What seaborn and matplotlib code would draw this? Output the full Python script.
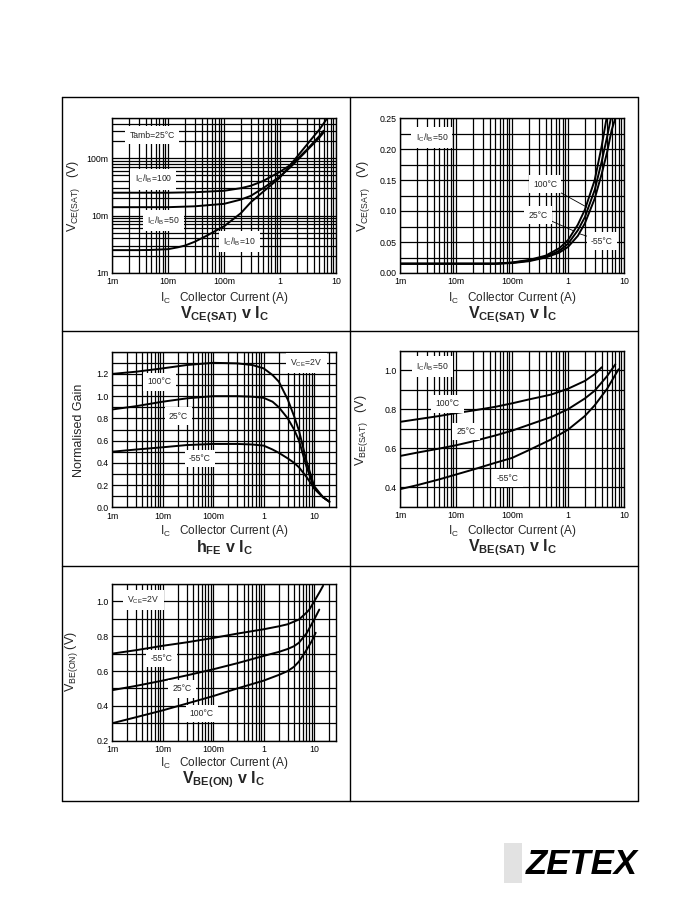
import numpy as np
import pandas as pd
import matplotlib
matplotlib.use("Agg")
import matplotlib.pyplot as plt
import seaborn as sns
from matplotlib.ticker import (LogLocator, MultipleLocator, FixedLocator,
                               FixedFormatter, NullFormatter, FormatStrFormatter)
from matplotlib.lines import Line2D
from matplotlib.patches import Rectangle

# ---------------- data ----------------
# Panel 1: VCE(SAT) v IC (log-log), Tamb=25C
p1_ic_a = [1e-3, 3e-3, 1e-2, 3e-2, 0.1, 0.2, 0.3, 0.5, 1, 1.5, 2, 3, 4, 5, 6]
p1_ib100 = [25e-3, 25e-3, 25e-3, 25.5e-3, 27e-3, 30e-3, 33e-3, 40e-3, 58e-3, 75e-3, 95e-3, 140e-3, 190e-3, 240e-3, 300e-3]
p1_ib50 = [14e-3, 14e-3, 14e-3, 14.5e-3, 16e-3, 19e-3, 22e-3, 30e-3, 48e-3, 68e-3, 90e-3, 135e-3, 180e-3, 225e-3, 280e-3]
p1_ic_b = [1e-3, 3e-3, 5e-3, 1e-2, 1.5e-2, 2e-2, 3e-2, 5e-2, 0.07, 0.1, 0.2, 0.3, 0.5, 1, 2, 3, 4, 5, 6, 7]
p1_ib10 = [2.5e-3, 2.5e-3, 2.52e-3, 2.6e-3, 2.8e-3, 3.0e-3, 3.5e-3, 4.5e-3, 5.4e-3, 6.5e-3, 11e-3, 17e-3, 26e-3, 46e-3, 105e-3, 170e-3, 240e-3, 310e-3, 400e-3, 500e-3]

# Panel 2: VCE(SAT) v IC (linear y), IC/IB=50
p2_ic = [1e-3, 1e-2, 5e-2, 0.1, 0.2, 0.4, 0.7, 1, 1.5, 2, 3, 4, 5, 6, 7.3]
p2_100 = [0.015, 0.015, 0.015, 0.017, 0.021, 0.028, 0.040, 0.053, 0.078, 0.102, 0.150, 0.205, 0.255, None, None]
p2_25 = [0.015, 0.015, 0.015, 0.0165, 0.020, 0.026, 0.036, 0.047, 0.069, 0.090, 0.134, 0.180, 0.220, 0.255, None]
p2_m55 = [0.015, 0.015, 0.015, 0.016, 0.019, 0.025, 0.033, 0.042, 0.060, 0.080, 0.120, 0.160, 0.195, 0.230, 0.255]

# Panel 3: hFE v IC (normalised gain), VCE=2V
p3_ic = [1e-3, 3e-3, 1e-2, 3e-2, 0.1, 0.3, 0.6, 1, 1.5, 2, 3, 4, 5, 7, 10, 15, 20]
p3_100 = [1.20, 1.22, 1.25, 1.28, 1.30, 1.295, 1.28, 1.25, 1.19, 1.13, 0.97, 0.82, 0.69, 0.42, 0.19, 0.09, 0.05]
p3_25 = [0.88, 0.91, 0.95, 0.98, 1.00, 1.00, 0.995, 0.985, 0.95, 0.90, 0.80, 0.70, 0.60, 0.37, 0.17, 0.09, 0.05]
p3_m55 = [0.50, 0.52, 0.54, 0.56, 0.57, 0.57, 0.565, 0.555, 0.52, 0.49, 0.44, 0.40, 0.36, 0.275, 0.17, 0.09, 0.05]

# Panel 4: VBE(SAT) v IC, IC/IB=50
p4_ic_100 = [1e-3, 2e-3, 5e-3, 1e-2, 2e-2, 5e-2, 0.1, 0.2, 0.5, 1, 2, 3, 4]
p4_100 = [0.735, 0.748, 0.765, 0.78, 0.793, 0.812, 0.83, 0.85, 0.875, 0.905, 0.945, 0.98, 1.015]
p4_ic_25 = [1e-3, 2e-3, 5e-3, 1e-2, 2e-2, 5e-2, 0.1, 0.2, 0.5, 1, 2, 3, 5, 7]
p4_25 = [0.56, 0.577, 0.598, 0.615, 0.635, 0.665, 0.69, 0.72, 0.76, 0.80, 0.855, 0.895, 0.97, 1.03]
p4_ic_m55 = [1e-3, 2e-3, 5e-3, 1e-2, 2e-2, 5e-2, 0.1, 0.2, 0.5, 1, 2, 3, 5, 8]
p4_m55 = [0.39, 0.41, 0.44, 0.465, 0.49, 0.525, 0.55, 0.59, 0.645, 0.695, 0.765, 0.82, 0.905, 1.005]

# Panel 5: VBE(ON) v IC, VCE=2V
p5_ic_a = [1e-3, 3e-3, 1e-2, 3e-2, 0.1, 0.3, 1, 2, 3, 5, 7, 8, 10, 13, 15]
p5_a = [0.70, 0.72, 0.745, 0.765, 0.79, 0.815, 0.84, 0.857, 0.869, 0.896, 0.935, 0.953, 1.0, 1.057, 1.09]
p5_ic_b = [1e-3, 3e-3, 1e-2, 3e-2, 0.1, 0.3, 1, 2, 3, 4, 5, 7, 10, 12.6]
p5_b = [0.49, 0.515, 0.545, 0.575, 0.61, 0.645, 0.687, 0.71, 0.727, 0.743, 0.763, 0.815, 0.896, 0.953]
p5_ic_c = [1e-3, 3e-3, 1e-2, 3e-2, 0.1, 0.3, 1, 2, 3, 4, 5, 7, 9, 10.7]
p5_c = [0.30, 0.335, 0.374, 0.413, 0.456, 0.50, 0.545, 0.578, 0.60, 0.625, 0.655, 0.72, 0.773, 0.82]

x_ticks = [1e-3, 1e-2, 1e-1, 1, 10]
x_ticklabels = ["1m", "10m", "100m", "1", "10"]

# ---------------- style ----------------
sns.set_theme(style="white")
plt.rcParams["font.family"] = ["Liberation Sans", "DejaVu Sans"]
plt.rcParams["mathtext.fontset"] = "custom"
plt.rcParams["mathtext.rm"] = "Liberation Sans"
plt.rcParams["mathtext.it"] = "Liberation Sans:italic"
plt.rcParams["mathtext.bf"] = "Liberation Sans:bold"
plt.rcParams["mathtext.default"] = "regular"

W, H = 700, 900
fig = plt.figure(figsize=(7, 9), dpi=100)
fig.patch.set_facecolor("white")


def px_axes(x0, y0, x1, y1):
    return fig.add_axes([x0 / W, 1 - y1 / H, (x1 - x0) / W, (y1 - y0) / H])


GRID_LW = 0.9
CURVE_LW = 1.4
TICK_FS = 6.3
LAB_FS = 6.2


def style_axes(ax, xmax):
    ax.set_xscale("log")
    ax.set_xlim(1e-3, xmax)
    ax.xaxis.set_major_locator(FixedLocator(x_ticks))
    ax.xaxis.set_major_formatter(FixedFormatter(x_ticklabels))
    ax.xaxis.set_minor_locator(LogLocator(base=10, subs=np.arange(2, 10), numticks=30))
    ax.xaxis.set_minor_formatter(NullFormatter())
    ax.grid(True, which="both", color="black", lw=GRID_LW)
    ax.set_axisbelow(True)
    ax.tick_params(which="both", length=0, labelsize=TICK_FS, colors="black")
    ax.tick_params(axis="x", pad=3.2)
    ax.tick_params(axis="y", pad=2.6)
    for s in ax.spines.values():
        s.set_color("black")
        s.set_linewidth(1.0)
    ax.set_xlabel("")
    ax.set_ylabel("")


def curve(ax, xs, ys):
    df = pd.DataFrame({"x": xs, "y": ys}).dropna()
    sns.lineplot(data=df, x="x", y="y", ax=ax, color="black", lw=CURVE_LW,
                 estimator=None, sort=False, zorder=3)


BOX = dict(facecolor="white", edgecolor="none", boxstyle="square,pad=0.5")


def label(ax, x, y, s, fs=LAB_FS):
    ax.text(x, y, s, fontsize=fs, ha="center", va="center", zorder=4, bbox=BOX)


def leader(ax, s, xy, xytext):
    ax.annotate(s, xy=xy, xytext=xytext, fontsize=LAB_FS, ha="center", va="center",
                zorder=4, bbox=BOX,
                arrowprops=dict(arrowstyle="-", color="black", lw=0.6,
                                shrinkA=0, shrinkB=0))


# ---------------- Panel 1 ----------------
ax1 = px_axes(112, 118, 336, 273)
curve(ax1, p1_ic_a, p1_ib100)
curve(ax1, p1_ic_a, p1_ib50)
curve(ax1, p1_ic_b, p1_ib10)
style_axes(ax1, 10)
ax1.set_yscale("log")
ax1.set_ylim(1e-3, 0.5)
ax1.yaxis.set_major_locator(FixedLocator([1e-3, 1e-2, 1e-1]))
ax1.yaxis.set_major_formatter(FixedFormatter(["1m", "10m", "100m"]))
ax1.yaxis.set_minor_locator(LogLocator(base=10, subs=np.arange(2, 10), numticks=30))
ax1.yaxis.set_minor_formatter(NullFormatter())
label(ax1, 5.2e-3, 0.25, "Tamb=25°C")
label(ax1, 5.5e-3, 43e-3, r"I$_C$/I$_B$=100")
label(ax1, 8.3e-3, 8.2e-3, r"I$_C$/I$_B$=50")
label(ax1, 0.19, 3.5e-3, r"I$_C$/I$_B$=10")

# ---------------- Panel 2 ----------------
ax2 = px_axes(400, 118, 624, 273)
curve(ax2, p2_ic, p2_100)
curve(ax2, p2_ic, p2_25)
curve(ax2, p2_ic, p2_m55)
style_axes(ax2, 10)
ax2.set_ylim(0, 0.25)
ax2.yaxis.set_major_locator(MultipleLocator(0.05))
ax2.yaxis.set_minor_locator(MultipleLocator(0.025))
ax2.yaxis.set_major_formatter(FormatStrFormatter("%.2f"))
label(ax2, 3.7e-3, 0.218, r"I$_C$/I$_B$=50")
leader(ax2, "100°C", (2.18, 0.106), (0.39, 0.1435))
leader(ax2, "25°C", (1.28, 0.0677), (0.29, 0.0935))
leader(ax2, "-55°C", (1.64, 0.063), (4.05, 0.0516))

# ---------------- Panel 3 ----------------
ax3 = px_axes(112, 351.7, 336, 507.3)
curve(ax3, p3_ic, p3_100)
curve(ax3, p3_ic, p3_25)
curve(ax3, p3_ic, p3_m55)
style_axes(ax3, 27)
ax3.set_ylim(0, 1.4)
ax3.yaxis.set_major_locator(FixedLocator([0, 0.2, 0.4, 0.6, 0.8, 1.0, 1.2]))
ax3.yaxis.set_minor_locator(MultipleLocator(0.1))
ax3.yaxis.set_major_formatter(FormatStrFormatter("%.1f"))
label(ax3, 7.0, 1.30, r"V$_{CE}$=2V")
label(ax3, 8.8e-3, 1.13, "100°C")
label(ax3, 20.6e-3, 0.82, "25°C")
label(ax3, 54.6e-3, 0.44, "-55°C")

# ---------------- Panel 4 ----------------
ax4 = px_axes(400, 350.7, 624, 506.7)
curve(ax4, p4_ic_100, p4_100)
curve(ax4, p4_ic_25, p4_25)
curve(ax4, p4_ic_m55, p4_m55)
style_axes(ax4, 10)
ax4.set_ylim(0.3, 1.1)
ax4.yaxis.set_major_locator(FixedLocator([0.4, 0.6, 0.8, 1.0]))
ax4.yaxis.set_minor_locator(MultipleLocator(0.1))
ax4.yaxis.set_major_formatter(FormatStrFormatter("%.1f"))
label(ax4, 3.8e-3, 1.018, r"I$_C$/I$_B$=50")
label(ax4, 7.1e-3, 0.827, "100°C")
label(ax4, 15e-3, 0.685, "25°C")
label(ax4, 83e-3, 0.446, "-55°C")

# ---------------- Panel 5 ----------------
ax5 = px_axes(112, 584, 336, 740.7)
curve(ax5, p5_ic_a, p5_a)
curve(ax5, p5_ic_b, p5_b)
curve(ax5, p5_ic_c, p5_c)
style_axes(ax5, 27)
ax5.set_ylim(0.2, 1.1)
ax5.yaxis.set_major_locator(FixedLocator([0.2, 0.4, 0.6, 0.8, 1.0]))
ax5.yaxis.set_minor_locator(MultipleLocator(0.1))
ax5.yaxis.set_major_formatter(FormatStrFormatter("%.1f"))
label(ax5, 4.2e-3, 1.008, r"V$_{CE}$=2V")
label(ax5, 9.6e-3, 0.673, "-55°C")
label(ax5, 24e-3, 0.497, "25°C")
label(ax5, 60e-3, 0.357, "100°C")

# ---------------- axis titles (figure text) ----------------
def ftext(x, y, s, **kw):
    fig.text(x / W, 1 - y / H, s, **kw)

XL_FS = 8.5
TT_FS = 11.5
YL_FS = 9
xl = r"I$_C$   Collector Current (A)"
for cx, y_xl, y_tt, tt in [
    (224, 298, 315, r"$\mathbf{V_{CE(SAT)}\ v\ I_C}$"),
    (512, 298, 315, r"$\mathbf{V_{CE(SAT)}\ v\ I_C}$"),
    (224, 531, 548, r"$\mathbf{h_{FE}\ v\ I_C}$"),
    (512, 531, 548, r"$\mathbf{V_{BE(SAT)}\ v\ I_C}$"),
    (224, 763, 780, r"$\mathbf{V_{BE(ON)}\ v\ I_C}$"),
]:
    ftext(cx, y_xl, xl, fontsize=XL_FS, ha="center", va="center")
    ftext(cx, y_tt, tt, fontsize=TT_FS, ha="center", va="center")

ftext(74, 196, r"V$_{CE(SAT)}$   (V)", fontsize=YL_FS, rotation=90, ha="center", va="center")
ftext(363, 196, r"V$_{CE(SAT)}$   (V)", fontsize=YL_FS, rotation=90, ha="center", va="center")
ftext(79, 430, "Normalised Gain", fontsize=YL_FS, rotation=90, ha="center", va="center")
ftext(362, 430, r"V$_{BE(SAT)}$   (V)", fontsize=YL_FS, rotation=90, ha="center", va="center")
ftext(72, 662, r"V$_{BE(ON)}$ (V)", fontsize=YL_FS, rotation=90, ha="center", va="center")

# ---------------- frame ----------------
def fline(x0, y0, x1, y1, lw=1.0):
    fig.add_artist(Line2D([x0 / W, x1 / W], [1 - y0 / H, 1 - y1 / H],
                          color="black", lw=lw, transform=fig.transFigure))

L, R, T, B = 62, 638, 97, 801
fline(L, T, R, T)
fline(L, B, R, B)
fline(L, T, L, B)
fline(R, T, R, B)
fline(350.5, T, 350.5, B)
fline(L, 331, R, 331)
fline(L, 566, R, 566)

# ---------------- logo ----------------
fig.add_artist(Rectangle((504 / W, 1 - 883 / H), 18 / W, 40 / H,
                         transform=fig.transFigure, facecolor="#e2e2e2",
                         edgecolor="none"))
ftext(582, 864, "ZETEX", fontsize=25, fontweight="bold", fontstyle="italic",
      ha="center", va="center", color="black")

fig.savefig("out.png", dpi=100, facecolor="white")
